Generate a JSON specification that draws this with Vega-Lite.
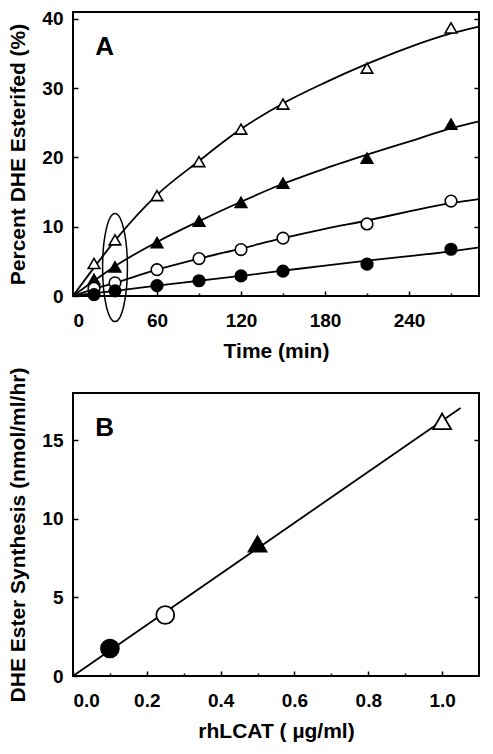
{
  "$schema": "https://vega.github.io/schema/vega-lite/v6.json",
  "background": "white",
  "padding": {"left": 6, "top": 8, "right": 5, "bottom": 5},
  "bounds": "flush",
  "spacing": 97,
  "config": {
    "font": "Liberation Sans",
    "view": {"stroke": "black", "strokeWidth": 2},
    "axis": {
      "domain": false, "grid": false,
      "tickColor": "black", "tickWidth": 1.5, "tickSize": -5,
      "labelFont": "Liberation Sans", "labelFontSize": 19, "labelFontWeight": "bold", "labelColor": "black",
      "titleFont": "Liberation Sans", "titleFontSize": 21, "titleFontWeight": "bold", "titleColor": "black"
    },
    "axisX": {"labelPadding": 20, "titlePadding": 10},
    "axisY": {"labelPadding": 15, "titlePadding": 13}
  },
  "datasets": {
    "curvesA": [
      {"series": "ot", "t": 0, "pct": 0}, {"series": "ot", "t": 15, "pct": 4.1}, {"series": "ot", "t": 30, "pct": 8.0},
      {"series": "ot", "t": 60, "pct": 14.6}, {"series": "ot", "t": 90, "pct": 19.5}, {"series": "ot", "t": 120, "pct": 24.1},
      {"series": "ot", "t": 150, "pct": 27.8}, {"series": "ot", "t": 180, "pct": 30.8}, {"series": "ot", "t": 210, "pct": 33.5},
      {"series": "ot", "t": 240, "pct": 35.9}, {"series": "ot", "t": 270, "pct": 37.9}, {"series": "ot", "t": 290, "pct": 38.9},
      {"series": "ft", "t": 0, "pct": 0}, {"series": "ft", "t": 15, "pct": 2.2}, {"series": "ft", "t": 30, "pct": 4.3},
      {"series": "ft", "t": 60, "pct": 7.8}, {"series": "ft", "t": 90, "pct": 10.8}, {"series": "ft", "t": 120, "pct": 13.6},
      {"series": "ft", "t": 150, "pct": 16.2}, {"series": "ft", "t": 180, "pct": 18.4}, {"series": "ft", "t": 210, "pct": 20.4},
      {"series": "ft", "t": 240, "pct": 22.3}, {"series": "ft", "t": 270, "pct": 24.2}, {"series": "ft", "t": 290, "pct": 25.2},
      {"series": "oc", "t": 0, "pct": 0}, {"series": "oc", "t": 15, "pct": 1.0}, {"series": "oc", "t": 30, "pct": 1.9},
      {"series": "oc", "t": 60, "pct": 3.8}, {"series": "oc", "t": 90, "pct": 5.4}, {"series": "oc", "t": 120, "pct": 6.85},
      {"series": "oc", "t": 150, "pct": 8.35}, {"series": "oc", "t": 180, "pct": 9.7}, {"series": "oc", "t": 210, "pct": 10.9},
      {"series": "oc", "t": 240, "pct": 12.2}, {"series": "oc", "t": 270, "pct": 13.4}, {"series": "oc", "t": 290, "pct": 14.0},
      {"series": "fc", "t": 0, "pct": 0}, {"series": "fc", "t": 15, "pct": 0.4}, {"series": "fc", "t": 30, "pct": 0.75},
      {"series": "fc", "t": 60, "pct": 1.5}, {"series": "fc", "t": 90, "pct": 2.2}, {"series": "fc", "t": 120, "pct": 2.9},
      {"series": "fc", "t": 150, "pct": 3.65}, {"series": "fc", "t": 180, "pct": 4.4}, {"series": "fc", "t": 210, "pct": 5.1},
      {"series": "fc", "t": 240, "pct": 5.75}, {"series": "fc", "t": 270, "pct": 6.45}, {"series": "fc", "t": 290, "pct": 7.0}
    ],
    "pointsA": [
      {"series": "ot", "t": 15, "pct": 4.7}, {"series": "ot", "t": 30, "pct": 8.1}, {"series": "ot", "t": 60, "pct": 14.5},
      {"series": "ot", "t": 90, "pct": 19.4}, {"series": "ot", "t": 120, "pct": 24.1}, {"series": "ot", "t": 150, "pct": 27.7},
      {"series": "ot", "t": 210, "pct": 32.9}, {"series": "ot", "t": 270, "pct": 38.7},
      {"series": "ft", "t": 15, "pct": 2.4}, {"series": "ft", "t": 30, "pct": 4.2}, {"series": "ft", "t": 60, "pct": 7.7},
      {"series": "ft", "t": 90, "pct": 10.8}, {"series": "ft", "t": 120, "pct": 13.5}, {"series": "ft", "t": 150, "pct": 16.3},
      {"series": "ft", "t": 210, "pct": 19.9}, {"series": "ft", "t": 270, "pct": 24.8},
      {"series": "oc", "t": 15, "pct": 1.1}, {"series": "oc", "t": 30, "pct": 1.9}, {"series": "oc", "t": 60, "pct": 3.8},
      {"series": "oc", "t": 90, "pct": 5.4}, {"series": "oc", "t": 120, "pct": 6.7}, {"series": "oc", "t": 150, "pct": 8.35},
      {"series": "oc", "t": 210, "pct": 10.4}, {"series": "oc", "t": 270, "pct": 13.7},
      {"series": "fc", "t": 15, "pct": 0.2}, {"series": "fc", "t": 30, "pct": 0.75}, {"series": "fc", "t": 60, "pct": 1.5},
      {"series": "fc", "t": 90, "pct": 2.2}, {"series": "fc", "t": 120, "pct": 2.9}, {"series": "fc", "t": 150, "pct": 3.6},
      {"series": "fc", "t": 210, "pct": 4.6}, {"series": "fc", "t": 270, "pct": 6.75}
    ],
    "lineB": [
      {"conc": 0, "rate": 0}, {"conc": 1.05, "rate": 17.05}
    ],
    "pointsB": [
      {"series": "fc", "conc": 0.1, "rate": 1.75},
      {"series": "oc", "conc": 0.25, "rate": 3.88},
      {"series": "ft", "conc": 0.5, "rate": 8.4},
      {"series": "ot", "conc": 1.0, "rate": 16.2}
    ]
  },
  "vconcat": [
    {
      "width": 406,
      "height": 284,
      "resolve": {"axis": {"x": "independent", "y": "independent"}},
      "layer": [
        {
          "data": {"name": "curvesA"},
          "mark": {"type": "line", "interpolate": "monotone", "color": "black", "strokeWidth": 1.8},
          "encoding": {
            "x": {"field": "t", "type": "quantitative", "scale": {"domain": [0, 290], "nice": false, "zero": false},
                  "axis": {"values": [0, 60, 120, 180, 240], "title": "Time (min)", "orient": "bottom"}},
            "y": {"field": "pct", "type": "quantitative", "scale": {"domain": [0, 41], "nice": false},
                  "axis": {"values": [0, 10, 20, 30, 40], "title": "Percent DHE Esterifed (%)", "orient": "left"}},
            "detail": {"field": "series", "type": "nominal"}
          }
        },
        {
          "data": {"name": "pointsA"},
          "mark": {"type": "point", "filled": true, "stroke": "black", "strokeWidth": 1.6, "opacity": 1, "size": 135},
          "encoding": {
            "x": {"field": "t", "type": "quantitative",
                  "axis": {"values": [30, 90, 150, 210, 270], "tickSize": -3, "labels": false, "title": null, "orient": "bottom"}},
            "y": {"field": "pct", "type": "quantitative",
                  "axis": {"values": [10, 20, 30, 40], "labels": false, "title": null, "orient": "right"}},
            "shape": {"field": "series", "type": "nominal", "legend": null,
                      "scale": {"domain": ["ot", "ft", "oc", "fc"], "range": ["triangle-up", "triangle-up", "circle", "circle"]}},
            "fill": {"field": "series", "type": "nominal", "legend": null,
                     "scale": {"domain": ["ot", "ft", "oc", "fc"], "range": ["white", "black", "white", "black"]}}
          }
        },
        {
          "data": {"values": [{}]},
          "mark": {"type": "point", "filled": false, "stroke": "black", "strokeWidth": 1.5, "opacity": 1, "clip": false,
                   "size": 11664,
                   "shape": "M0,-1C0.127,-1,0.23,-0.552,0.23,0C0.23,0.552,0.127,1,0,1C-0.127,1,-0.23,0.552,-0.23,0C-0.23,-0.552,-0.127,-1,0,-1Z"},
          "encoding": {
            "x": {"datum": 30, "type": "quantitative", "axis": null},
            "y": {"datum": 4.1, "type": "quantitative", "axis": null}
          }
        },
        {
          "data": {"values": [{"label": "A"}]},
          "mark": {"type": "text", "fontSize": 26, "fontWeight": "bold", "font": "Liberation Sans", "color": "black", "align": "center", "baseline": "middle"},
          "encoding": {
            "x": {"datum": 22.6, "type": "quantitative", "axis": null},
            "y": {"datum": 35.9, "type": "quantitative", "axis": null},
            "text": {"field": "label", "type": "nominal"}
          }
        }
      ]
    },
    {
      "width": 406,
      "height": 283,
      "resolve": {"axis": {"x": "independent", "y": "independent"}},
      "layer": [
        {
          "data": {"name": "lineB"},
          "mark": {"type": "line", "color": "black", "strokeWidth": 1.8},
          "encoding": {
            "x": {"field": "conc", "type": "quantitative", "scale": {"domain": [0, 1.1], "nice": false, "zero": false},
                  "axis": {"values": [0, 0.2, 0.4, 0.6, 0.8, 1.0], "format": ".1f", "title": "rhLCAT ( µg/ml)", "orient": "bottom"}},
            "y": {"field": "rate", "type": "quantitative", "scale": {"domain": [0, 18], "nice": false},
                  "axis": {"values": [0, 5, 10, 15], "title": "DHE Ester Synthesis (nmol/ml/hr)", "orient": "left"}}
          }
        },
        {
          "data": {"name": "pointsB"},
          "mark": {"type": "point", "filled": true, "stroke": "black", "strokeWidth": 1.8, "opacity": 1, "size": 320},
          "encoding": {
            "x": {"field": "conc", "type": "quantitative",
                  "axis": {"values": [0.1, 0.3, 0.5, 0.7, 0.9], "tickSize": -3, "labels": false, "title": null, "orient": "bottom"}},
            "y": {"field": "rate", "type": "quantitative",
                  "axis": {"values": [5, 10, 15], "labels": false, "title": null, "orient": "right"}},
            "shape": {"field": "series", "type": "nominal", "legend": null,
                      "scale": {"domain": ["ot", "ft", "oc", "fc"], "range": ["triangle-up", "triangle-up", "circle", "circle"]}},
            "fill": {"field": "series", "type": "nominal", "legend": null,
                     "scale": {"domain": ["ot", "ft", "oc", "fc"], "range": ["white", "black", "white", "black"]}}
          }
        },
        {
          "data": {"values": [{"label": "B"}]},
          "mark": {"type": "text", "fontSize": 26, "fontWeight": "bold", "font": "Liberation Sans", "color": "black", "align": "center", "baseline": "middle"},
          "encoding": {
            "x": {"datum": 0.086, "type": "quantitative", "axis": null},
            "y": {"datum": 15.75, "type": "quantitative", "axis": null},
            "text": {"field": "label", "type": "nominal"}
          }
        }
      ]
    }
  ]
}
